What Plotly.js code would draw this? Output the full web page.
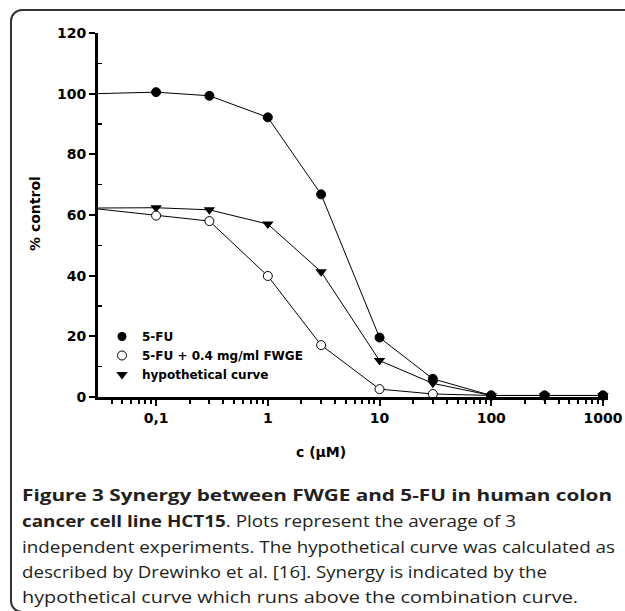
<!DOCTYPE html>
<html>
<head>
<meta charset="utf-8">
<script src="https://cdn.plot.ly/plotly-3.0.1.min.js"></script>
<style>
  html, body { margin:0; padding:0; background:#fff; overflow:hidden; }
  #frame { position:absolute; left:10px; top:9px; width:700px; height:600px;
           border:2px solid #333; border-radius:12px; box-sizing:content-box; }
  #chart { position:absolute; left:0; top:0; width:625px; height:611px; }
</style>
</head>
<body>
<div id="frame"></div>
<div id="chart"></div>
<script>
// ---- data ----
const conc = [0.03, 0.1, 0.3, 1, 3, 10, 30, 100, 300, 1000];
const fu5 = [100, 100.5, 99.3, 92.2, 66.8, 19.6, 6.0, 0.5, 0.5, 0.5];
const combo = [62.0, 59.8, 58.0, 39.9, 17.1, 2.6, 1.0, 0.5, 0.5, 0.5];
const hypothetical = [62.3, 62.4, 61.7, 57.0, 41.3, 12.0, 4.5, 0.5, 0.5, 0.5];
const seriesNames = ['5-FU', '5-FU + 0.4 mg/ml FWGE', 'hypothetical curve'];
const xTickVals = [0.1, 1, 10, 100, 1000];
const xTickText = ['0,1', '1', '10', '100', '1000'];
const yTickVals = [0, 20, 40, 60, 80, 100, 120];
const captionLines = [
  '<b>Figure 3 Synergy between FWGE and 5-FU in human colon</b>',
  '<b>cancer cell line HCT15</b>. Plots represent the average of 3',
  'independent experiments. The hypothetical curve was calculated as',
  'described by Drewinko et al. [16]. Synergy is indicated by the',
  'hypothetical curve which runs above the combination curve.'
];
const xTitle = 'c (µM)';
const yTitle = '% control';

// ---- layout helpers ----
const W = 625, H = 611;
const M = {l: 98, r: 17, t: 33, b: 214};
const pw = W - M.l - M.r, ph = H - M.t - M.b;
const px = v => (v - M.l) / pw;
const py = v => (H - M.b - v) / ph;

const F = 'DejaVu Sans, sans-serif';
const CF = 'Open Sans, Noto Sans, sans-serif';
const black = '#000';

const lineStyle = {color: black, width: 1};
const mSize = 9;

const traces = [
  {x: conc, y: hypothetical, mode: 'lines+markers', showlegend: false, cliponaxis: false,
   line: lineStyle, marker: {symbol: 'triangle-down', size: 10, color: black}},
  {x: conc, y: combo, mode: 'lines+markers', showlegend: false, cliponaxis: false,
   line: lineStyle, marker: {symbol: 'circle', size: mSize, color: '#fff', line: {color: black, width: 1}}},
  {x: conc, y: fu5, mode: 'lines+markers', showlegend: false, cliponaxis: false,
   line: lineStyle, marker: {symbol: 'circle', size: mSize,
     color: fu5.map((v, i) => i === 0 ? '#fff' : black), line: {color: black, width: 1}}},
  // legend entries (markers only)
  {x: [null], y: [null], mode: 'markers', name: seriesNames[0],
   marker: {symbol: 'circle', size: mSize, color: black}},
  {x: [null], y: [null], mode: 'markers', name: seriesNames[1],
   marker: {symbol: 'circle', size: mSize, color: '#fff', line: {color: black, width: 1}}},
  {x: [null], y: [null], mode: 'markers', name: seriesNames[2],
   marker: {symbol: 'triangle-down', size: 10, color: black}}
];

const minorX = [];
[0.01, 0.1, 1, 10, 100].forEach(d => { for (let k = 2; k <= 9; k++) { const v = +(d * k).toPrecision(3); if (v > 0.031) minorX.push(v); } });
const minorY = [10, 30, 50, 70, 90, 110];

const annotations = [
  {text: yTitle, xref: 'paper', yref: 'paper', x: px(35), y: py(214), textangle: -90,
   xanchor: 'center', yanchor: 'middle',
   showarrow: false, font: {family: F, size: 14, color: black, weight: 'bold'}},
  {text: xTitle, xref: 'paper', yref: 'paper', x: px(321), y: py(452),
   xanchor: 'center', yanchor: 'middle',
   showarrow: false, font: {family: F, size: 14, color: black, weight: 'bold'}}
];
const capY = [495, 521, 547, 572, 597];
const capW = [590, 494, 593, 525, 556];
captionLines.forEach((t, i) => annotations.push({
  text: t, xref: 'paper', yref: 'paper', x: px(20), y: py(capY[i]), xanchor: 'left', yanchor: 'middle',
  showarrow: false, align: 'left', font: {family: CF, size: 16, color: '#231f20'}
}));

const layout = {
  width: W, height: H,
  margin: M,
  paper_bgcolor: 'rgba(0,0,0,0)', plot_bgcolor: 'rgba(0,0,0,0)',
  showlegend: true,
  legend: {x: px(102), y: py(322), xanchor: 'left', yanchor: 'top', bgcolor: 'rgba(0,0,0,0)',
           font: {family: F, size: 12, color: black, weight: 'bold'}, tracegroupgap: 0},
  xaxis: {type: 'log', range: [-1.52, 3.045], tickmode: 'array', tickvals: xTickVals, ticktext: xTickText,
          ticks: 'outside', ticklen: 6, tickwidth: 2, tickcolor: black,
          showline: true, linewidth: 3, linecolor: black, showgrid: false, zeroline: false,
          tickfont: {family: F, size: 14, color: black, weight: 'bold'},
          minor: {tickmode: 'array', tickvals: minorX, ticks: 'outside', ticklen: 4, tickwidth: 2, tickcolor: black, showgrid: false}},
  yaxis: {range: [0, 120], tickmode: 'array', tickvals: yTickVals,
          ticks: 'outside', ticklen: 6, tickwidth: 2, tickcolor: black,
          showline: true, linewidth: 3, linecolor: black, showgrid: false, zeroline: false,
          tickfont: {family: F, size: 14, color: black, weight: 'bold'},
          minor: {tickmode: 'array', tickvals: minorY, ticks: 'inside', ticklen: 4, tickwidth: 1.5, tickcolor: black, showgrid: false}},
  annotations: annotations
};

Plotly.newPlot('chart', traces, layout, {displayModeBar: false, staticPlot: true}).then(gd => {
  // widen caption lines to the reference's line widths (text stays real text)
  captionLines.forEach((t, i) => {
    const el = gd.querySelector('g.annotation[data-index="' + (i + 2) + '"] text.annotation-text');
    if (el) {
      el.setAttribute('textLength', capW[i]);
      el.setAttribute('lengthAdjust', 'spacingAndGlyphs');
    }
  });
});
</script>
</body>
</html>
